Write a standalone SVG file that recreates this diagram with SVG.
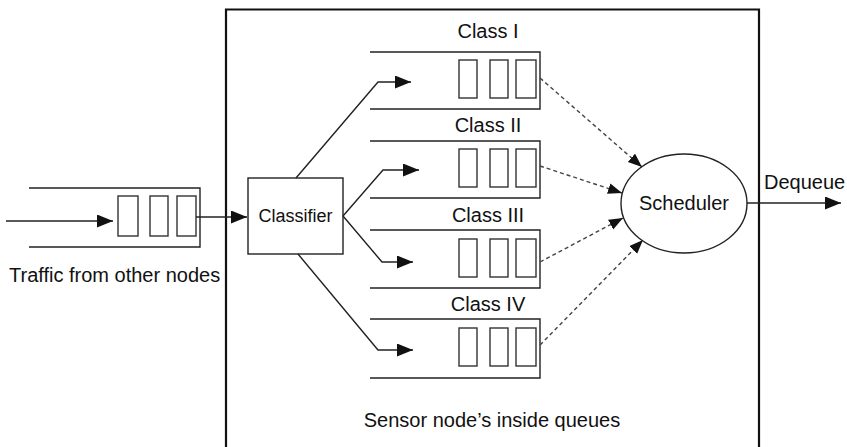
<svg xmlns="http://www.w3.org/2000/svg" width="847" height="447" viewBox="0 0 847 447">
<defs>
<style>
.ln{fill:none;stroke:#222;stroke-width:1.4}
.cell{fill:#fff;stroke:#333;stroke-width:1.4}
.dash{fill:none;stroke:#444;stroke-width:1.4;stroke-dasharray:4,3}
.t{font-family:"Liberation Sans",Arial,sans-serif;font-size:20px;fill:#111}
.m{text-anchor:middle}
</style>
<marker id="ah" markerUnits="userSpaceOnUse" markerWidth="17" markerHeight="14" refX="16" refY="6.5" orient="auto">
<path d="M0,0 L16,6.5 L0,13 z" fill="#111"/>
</marker>
<marker id="dh" markerUnits="userSpaceOnUse" markerWidth="15" markerHeight="12" refX="14" refY="5.5" orient="auto">
<path d="M0,0 L14,5.5 L0,11 z" fill="#111"/>
</marker>
</defs>
<rect width="847" height="447" fill="#fff"/>

<g id="sensor-node">
<path d="M226,452 V9.5 H759 V452" fill="none" stroke="#111" stroke-width="2.2"/>
<text class="t m" x="492" y="427">Sensor node’s inside queues</text>
</g>

<g id="input-queue">
<path class="ln" d="M29,188 H200 V247 H29"/>
<rect class="cell" x="118" y="196" width="20" height="40"/>
<rect class="cell" x="150" y="196" width="18" height="40"/>
<rect class="cell" x="177" y="196" width="19" height="40"/>
<text class="t" x="9" y="282">Traffic from other nodes</text>
</g>

<g id="classifier">
<rect class="ln" x="248" y="178" width="95" height="76" fill="#fff"/>
<text class="t m" x="295.5" y="222" style="font-size:18px">Classifier</text>
</g>

<g id="class1">
<path class="ln" d="M370,52 H540 V109 H370"/>
<rect class="cell" x="459" y="60" width="18" height="38"/>
<rect class="cell" x="490" y="60" width="18" height="38"/>
<rect class="cell" x="516" y="60" width="20" height="38"/>
<text class="t m" x="488" y="38">Class I</text>
</g>

<g id="class2">
<path class="ln" d="M370,141 H540 V198 H370"/>
<rect class="cell" x="459" y="149" width="18" height="38"/>
<rect class="cell" x="490" y="149" width="18" height="38"/>
<rect class="cell" x="516" y="149" width="20" height="38"/>
<text class="t m" x="488" y="132">Class II</text>
</g>

<g id="class3">
<path class="ln" d="M370,230 H540 V288 H370"/>
<rect class="cell" x="459" y="239" width="18" height="38"/>
<rect class="cell" x="490" y="239" width="18" height="38"/>
<rect class="cell" x="516" y="239" width="20" height="38"/>
<text class="t m" x="488" y="222">Class III</text>
</g>

<g id="class4">
<path class="ln" d="M370,319 H540 V378 H370"/>
<rect class="cell" x="459" y="328" width="18" height="38"/>
<rect class="cell" x="490" y="328" width="18" height="38"/>
<rect class="cell" x="516" y="328" width="20" height="38"/>
<text class="t m" x="488" y="311">Class IV</text>
</g>

<g id="scheduler">
<ellipse cx="684" cy="203.5" rx="63" ry="49.5" fill="#fff" stroke="#222" stroke-width="1.4"/>
<text class="t m" x="684" y="210">Scheduler</text>
</g>

<g id="dequeue">
<text class="t" x="764" y="189">Dequeue</text>
</g>

<g id="connectors">
<path class="ln" d="M6,221 H113" marker-end="url(#ah)"/>
<path class="ln" d="M196,217 H247" marker-end="url(#ah)"/>
<path class="ln" d="M296,178 L378,82 H411" marker-end="url(#ah)"/>
<path class="ln" d="M343,216 L383,170 H419" marker-end="url(#ah)"/>
<path class="ln" d="M343,216 L382,262 H413" marker-end="url(#ah)"/>
<path class="ln" d="M298,254 L378,350 H413" marker-end="url(#ah)"/>
<path class="dash" d="M540,78 L642,167" marker-end="url(#dh)"/>
<path class="dash" d="M540,166 L622,193" marker-end="url(#dh)"/>
<path class="dash" d="M540,262 L623,218" marker-end="url(#dh)"/>
<path class="dash" d="M540,345 L643,240" marker-end="url(#dh)"/>
<path class="ln" d="M747,203 H841" marker-end="url(#ah)"/>
</g>
</svg>
